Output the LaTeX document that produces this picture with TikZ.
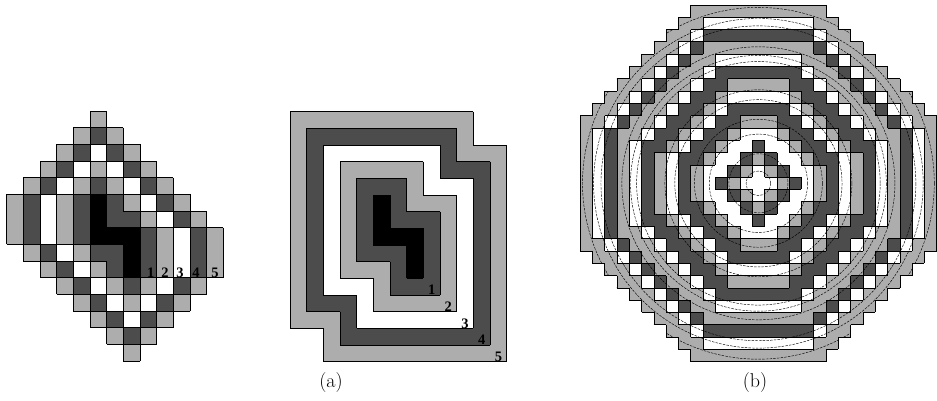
\documentclass[tikz,border=0pt]{standalone}
\usepackage{fontspec}
\newfontfamily\tms{Liberation Serif}
\definecolor{dk}{gray}{0.3}
\definecolor{lt}{gray}{0.68}
\tikzset{
  declare function={
    dA(\x,\y)=min(abs(\x-5)+abs(\y-5),abs(\x-5)+abs(\y-6),abs(\x-5)+abs(\y-7),abs(\x-6)+abs(\y-7),abs(\x-7)+abs(\y-7),abs(\x-7)+abs(\y-8),abs(\x-7)+abs(\y-9));
    dB(\x,\y)=min(max(abs(\x-5),abs(\y-5)),max(abs(\x-5),abs(\y-6)),max(abs(\x-5),abs(\y-7)),max(abs(\x-6),abs(\y-7)),max(abs(\x-7),abs(\y-7)),max(abs(\x-7),abs(\y-8)),max(abs(\x-7),abs(\y-9)));
  },
  border/.style={line width=0.7pt, line cap=square},
  ring/.style={line width=0.45pt, dash pattern=on 2.5pt off 1.2pt},
  numlab/.style={font=\tms\bfseries\fontsize{14.5}{15}\selectfont, inner sep=0pt},
  caplab/.style={font=\fontsize{20}{24}\selectfont, inner sep=0pt}
}
% smallest ring index r with r + n8(r) >= s, n8(r)=floor((r-1)(sqrt2-1))
\def\garr{{0,1,2,3,4,4,5,6,6,7,8,9,9,10,11,11,12,13,14,14,15,16,16,17,17,17,17,17,17,17,17,17}}
\newcommand\getdC[3]{%
  \pgfmathtruncatemacro\tmps{abs(#1)+abs(#2)}%
  \pgfmathtruncatemacro\tmpm{max(abs(#1),abs(#2))}%
  \pgfmathtruncatemacro#3{min(max(\tmpm,\garr[\tmps]),15)}%
  \ifnum#3=0 \def#3{1}\fi}
\newcommand\colA[1]{\ifcase#1 \def\col{black}\or\def\col{dk}\or\def\col{lt}\or\def\col{white}\or\def\col{dk}\or\def\col{lt}\else\def\col{white}\fi}
\begin{document}
\begin{tikzpicture}[x=1pt,y=-1pt]
\useasboundingbox (0,0) rectangle (937,401);
% ---------- (a) left: city-block distance ----------
\begin{scope}[shift={(6.67,111)},x=16.67pt,y=-16.67pt]
  \foreach \i in {0,...,12}{\foreach \j in {0,...,14}{
    \pgfmathtruncatemacro\va{dA(\i,\j)}
    \ifnum\va<6 \colA{\va}\fill[\col] (\i,\j) rectangle ++(1,1);\fi
  }}
  \foreach \i in {-1,...,12}{\foreach \j in {-1,...,14}{
    \pgfmathtruncatemacro\va{min(dA(\i,\j),6)}
    \pgfmathtruncatemacro\vr{min(dA(\i+1,\j),6)}
    \pgfmathtruncatemacro\vb{min(dA(\i,\j+1),6)}
    \ifnum\va=\vr\else\draw[border] (\i+1,\j) -- (\i+1,\j+1);\fi
    \ifnum\va=\vb\else\draw[border] (\i,\j+1) -- (\i+1,\j+1);\fi
  }}
  \node[numlab] (la1) at (8.65,9.72) {1};
  \node[numlab] (la2) at (9.5,9.72) {2};
  \node[numlab] (la3) at (10.4,9.72) {3};
  \node[numlab] (la4) at (11.35,9.72) {4};
  \node[numlab] (la5) at (12.5,9.72) {5};
\end{scope}
% ---------- (a) middle: chessboard distance ----------
\begin{scope}[shift={(290,111.7)},x=16.67pt,y=-16.67pt]
  \foreach \i in {0,...,12}{\foreach \j in {0,...,14}{
    \pgfmathtruncatemacro\va{dB(\i,\j)}
    \ifnum\va<6 \colA{\va}\fill[\col] (\i,\j) rectangle ++(1,1);\fi
  }}
  \foreach \i in {-1,...,12}{\foreach \j in {-1,...,14}{
    \pgfmathtruncatemacro\va{min(dB(\i,\j),6)}
    \pgfmathtruncatemacro\vr{min(dB(\i+1,\j),6)}
    \pgfmathtruncatemacro\vb{min(dB(\i,\j+1),6)}
    \ifnum\va=\vr\else\draw[border] (\i+1,\j) -- (\i+1,\j+1);\fi
    \ifnum\va=\vb\else\draw[border] (\i,\j+1) -- (\i+1,\j+1);\fi
  }}
  \node[numlab] (lb1) at (8.5,10.7) {1};
  \node[numlab] (lb2) at (9.5,11.7) {2};
  \node[numlab] (lb3) at (10.5,12.7) {3};
  \node[numlab] (lb4) at (11.5,13.7) {4};
  \node[numlab] (lb5) at (12.5,14.7) {5};
\end{scope}
% ---------- (b) octagonal distance ----------
\begin{scope}[shift={(758.4,183.3)},x=12.3pt,y=-12.3pt]
  \foreach \i in {-14,...,14}{\foreach \j in {-14,...,14}{
    \getdC{\i}{\j}{\va}
    \ifnum\va<15
      \pgfmathtruncatemacro\vm{mod(\va,3)}
      \ifcase\vm \def\col{dk}\or\def\col{white}\or\def\col{lt}\fi
      \fill[\col] (\i-0.5,\j-0.5) rectangle ++(1,1);
    \fi
  }}
  \begin{scope}
    \clip (-5.5,-14.5) -- (5.5,-14.5)
      \foreach \k in {0,...,8}{ -- ({5.5+\k},{-13.5+\k}) -- ({6.5+\k},{-13.5+\k}) }
      -- (14.5,5.5)
      \foreach \k in {0,...,8}{ -- ({13.5-\k},{5.5+\k}) -- ({13.5-\k},{6.5+\k}) }
      -- (-5.5,14.5)
      \foreach \k in {0,...,8}{ -- ({-5.5-\k},{13.5-\k}) -- ({-6.5-\k},{13.5-\k}) }
      -- (-14.5,-5.5)
      \foreach \k in {0,...,8}{ -- ({-13.5+\k},{-5.5-\k}) -- ({-13.5+\k},{-6.5-\k}) }
      -- cycle;
    \foreach \r in {1,2.4,4,5.2,6.8,7.6,9.9,10.4,11.1,12.8,13.4,14.3}{
      \draw[ring] (0,0) circle[radius=\r];
    }
  \end{scope}
  \foreach \i in {-15,...,14}{\foreach \j in {-15,...,14}{
    \getdC{\i}{\j}{\va}
    \getdC{\i+1}{\j}{\vr}
    \getdC{\i}{\j+1}{\vb}
    \ifnum\va=\vr\else\draw[border] (\i+0.5,\j-0.5) -- (\i+0.5,\j+0.5);\fi
    \ifnum\va=\vb\else\draw[border] (\i-0.5,\j+0.5) -- (\i+0.5,\j+0.5);\fi
  }}
\end{scope}
\node[caplab] (capa) at (331,383) {(a)};
\node[caplab] (capb) at (755,383) {(b)};
\end{tikzpicture}
\end{document}
